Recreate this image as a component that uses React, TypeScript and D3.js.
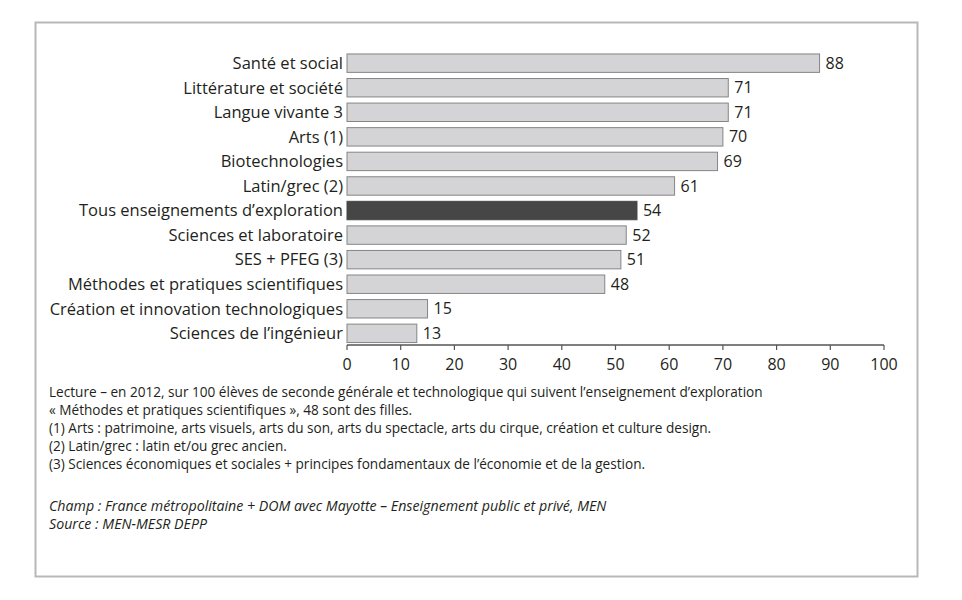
import React from "react";
import * as d3 from "d3";

const categories = [
  "Santé et social",
  "Littérature et société",
  "Langue vivante 3",
  "Arts (1)",
  "Biotechnologies",
  "Latin/grec (2)",
  "Tous enseignements d’exploration",
  "Sciences et laboratoire",
  "SES + PFEG (3)",
  "Méthodes et pratiques scientifiques",
  "Création et innovation technologiques",
  "Sciences de l’ingénieur",
];
const values = [88, 71, 71, 70, 69, 61, 54, 52, 51, 48, 15, 13];
const highlighted = ["Tous enseignements d’exploration"];
const tickValues = [0, 10, 20, 30, 40, 50, 60, 70, 80, 90, 100];
const notes = [
  "Lecture – en 2012, sur 100 élèves de seconde générale et technologique qui suivent l’enseignement d’exploration",
  "« Méthodes et pratiques scientifiques », 48 sont des filles.",
  "(1) Arts : patrimoine, arts visuels, arts du son, arts du spectacle, arts du cirque, création et culture design.",
  "(2) Latin/grec : latin et/ou grec ancien.",
  "(3) Sciences économiques et sociales + principes fondamentaux de l’économie et de la gestion.",
];
const sources = [
  "Champ : France métropolitaine + DOM avec Mayotte – Enseignement public et privé, MEN",
  "Source : MEN-MESR DEPP",
];

const W = 962;
const H = 600;
const FONT = "'Open Sans', 'DejaVu Sans', sans-serif";
const TEXT = "#231f20";

export default function App() {
  const x = d3.scaleLinear().domain([0, 100]).range([347, 884]);
  const y = d3
    .scaleBand<string>()
    .domain(categories)
    .range([51.5, 345])
    .paddingInner(0.25)
    .paddingOuter(0.1);
  const bh = y.bandwidth();

  return (
    <svg
      width={W}
      height={H}
      viewBox={`0 0 ${W} ${H}`}
      style={{ position: "absolute", left: 0, top: 0, background: "#fff" }}
    >
      <rect x={0} y={0} width={W} height={H} fill="#fff" />
      <rect x={35.5} y={22.5} width={882} height={554} fill="none" stroke="#b8b8b8" strokeWidth={2} />
      {categories.map((c, i) => {
        const yy = y(c)!;
        const hl = highlighted.includes(c);
        return (
          <g key={c}>
            <rect
              x={x(0)}
              y={yy}
              width={x(values[i]) - x(0)}
              height={bh}
              fill={hl ? "#464646" : "#d4d4d6"}
              stroke={hl ? "#464646" : "#858585"}
              strokeWidth={1}
            />
            <text
              x={x(0) - 4}
              y={yy + bh / 2}
              dy="0.35em"
              textAnchor="end"
              fontFamily={FONT}
              fontSize={16.5}
              fill={TEXT}
            >
              {c}
            </text>
            <text
              x={x(values[i]) + 6}
              y={yy + bh / 2}
              dy="0.35em"
              fontFamily={FONT}
              fontSize={16}
              fill={TEXT}
            >
              {values[i]}
            </text>
          </g>
        );
      })}
      <line x1={x(0)} x2={x(100)} y1={345} y2={345} stroke="#555" strokeWidth={1.5} />
      {tickValues.map((t) => (
        <g key={t}>
          <line x1={x(t)} x2={x(t)} y1={345} y2={350} stroke="#555" strokeWidth={1.2} />
          <text
            x={x(t)}
            y={364}
            dy="0.35em"
            textAnchor="middle"
            fontFamily={FONT}
            fontSize={16}
            fill={TEXT}
          >
            {t}
          </text>
        </g>
      ))}
      {notes.map((n, i) => (
        <text
          key={i}
          x={49}
          y={392 + i * 18}
          dy="0.35em"
          fontFamily={FONT}
          fontSize={13.6}
          fill={TEXT}
        >
          {n}
        </text>
      ))}
      {sources.map((n, i) => (
        <text
          key={i}
          x={49}
          y={506 + i * 18}
          dy="0.35em"
          fontFamily={FONT}
          fontStyle="italic"
          fontSize={14.2}
          fill={TEXT}
        >
          {n}
        </text>
      ))}
    </svg>
  );
}
